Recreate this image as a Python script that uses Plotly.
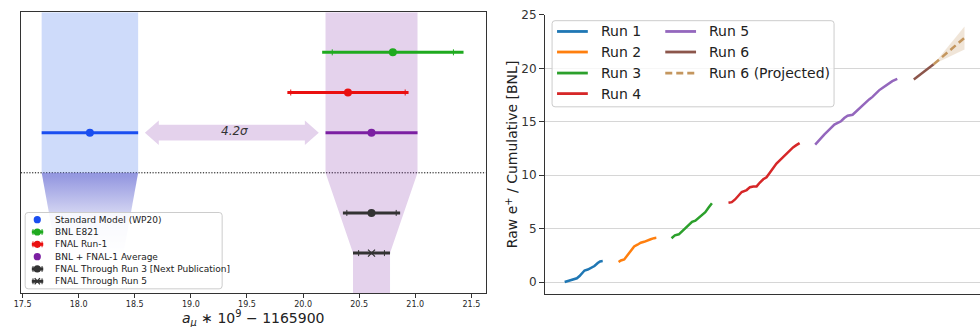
import plotly.graph_objects as go

W, H = 980, 327
FONT = "DejaVu Sans"

# ---------------- left panel: a_mu * 1e9 - 1165900 ----------------
meas_labels = ["Standard Model (WP20)", "BNL E821", "FNAL Run-1",
               "BNL + FNAL-1 Average", "FNAL Through Run 3 [Next Publication]",
               "FNAL Through Run 5"]
meas_center = [18.10, 20.80, 20.40, 20.61, 20.61, 20.61]
meas_total_err = [0.43, 0.63, 0.54, 0.41, 0.255, 0.165]
meas_stat_err = [0.0, 0.54, 0.51, 0.0, 0.22, 0.115]
meas_row = [3, 5, 4, 3, 1, 0]
meas_color = ["#1a4ef0", "#1faa1f", "#ea1010", "#7b1fa2", "#333333", "#333333"]
meas_symbol = ["circle", "circle", "circle", "circle", "circle", "x-thin"]
significance = "4.2σ"
divider_row = 2
left_ticks = [17.5, 18.0, 18.5, 19.0, 19.5, 20.0, 20.5, 21.0, 21.5]

# ---------------- right panel: cumulative raw positrons per run ----------------
run_names = ["Run 1", "Run 2", "Run 3", "Run 4", "Run 5", "Run 6"]
run_colors = ["#1f77b4", "#ff7f0e", "#2ca02c", "#d62728", "#9467bd", "#8c564b"]
run1_x = [4.92, 5.75, 6.58, 7.42, 8.0, 8.67, 9.33, 9.92, 10.75, 11.58, 12.42, 13.25, 13.83, 14.5]
run1_y = [0.03, 0.12, 0.18, 0.24, 0.37, 0.58, 0.91, 1.10, 1.19, 1.34, 1.52, 1.80, 1.95, 1.98]
run2_x = [18.5, 19.08, 19.92, 20.75, 21.58, 22.42, 23.25, 24.08, 24.92, 25.75, 26.58, 27.42, 28.0]
run2_y = [1.89, 2.04, 2.13, 2.56, 2.96, 3.35, 3.51, 3.69, 3.78, 3.93, 4.02, 4.12, 4.15]
run3_x = [31.83, 32.67, 33.67, 34.5, 35.33, 36.17, 37.0, 37.83, 38.67, 39.5, 40.33, 41.17, 42.0]
run3_y = [4.12, 4.39, 4.48, 4.79, 5.09, 5.40, 5.64, 5.76, 6.01, 6.25, 6.55, 6.98, 7.38]
run4_x = [46.17, 47.0, 47.83, 48.67, 49.5, 50.75, 51.58, 52.42, 53.25, 54.08, 54.92,
          55.75, 56.58, 57.42, 58.25, 59.08, 59.92, 60.75, 61.58, 62.42, 63.25, 64.08]
run4_y = [7.43, 7.49, 7.74, 8.10, 8.44, 8.62, 8.89, 8.96, 8.96, 9.32, 9.63,
          9.81, 10.23, 10.63, 11.09, 11.39, 11.70, 11.91, 12.31, 12.61, 12.82, 13.01]
run5_x = [68.0, 68.67, 69.5, 70.33, 71.17, 72.0, 72.83, 73.67, 74.5, 75.33, 76.17, 77.42,
          78.25, 79.08, 79.92, 80.75, 81.58, 82.42, 83.25, 84.08, 84.92, 85.75, 86.58, 87.42, 88.67]
run5_y = [12.86, 13.16, 13.53, 13.83, 14.13, 14.44, 14.74, 14.90, 15.05, 15.35, 15.57, 15.66,
          15.96, 16.27, 16.57, 16.82, 17.09, 17.33, 17.64, 17.94, 18.16, 18.40, 18.64, 18.80, 19.01]
run6_x = [92.83, 94.08, 95.33, 96.58, 97.83]
run6_y = [18.95, 19.31, 19.68, 19.99, 20.38]
proj_label = "Run 6 (Projected)"
proj_x = [97.83, 105.6]
proj_y = [20.38, 22.85]
proj_lo = [20.38, 21.75]
proj_hi = [20.38, 23.9]
right_ticks = [0, 5, 10, 15, 20, 25]

run_xs = [run1_x, run2_x, run3_x, run4_x, run5_x, run6_x]
run_ys = [run1_y, run2_y, run3_y, run4_y, run5_y, run6_y]

PROJ_COLOR = "#c4965e"
PROJ_FILL = "rgba(205,170,125,0.3)"
Y_LO, Y_HI = -1, 6


def px(x):
    return x / W


def py(y):
    return 1 - y / H


def rrect(x0, y0, x1, y1, r=3):
    p = lambda x, y: f"{px(x):.5f},{py(y):.5f}"
    return (f"M{p(x0 + r, y0)} L{p(x1 - r, y0)} Q{p(x1, y0)} {p(x1, y0 + r)} "
            f"L{p(x1, y1 - r)} Q{p(x1, y1)} {p(x1 - r, y1)} L{p(x0 + r, y1)} "
            f"Q{p(x0, y1)} {p(x0, y1 - r)} L{p(x0, y0 + r)} Q{p(x0, y0)} {p(x0 + r, y0)} Z")


fig = go.Figure()

# --- shaded bands ---
sm_c, sm_e = meas_center[0], meas_total_err[0]
av_c, av_e = meas_center[3], meas_total_err[3]
r5_c, r5_e = meas_center[5], meas_total_err[5]
r5_row = meas_row[5]

fig.add_trace(go.Scatter(
    x=[sm_c - sm_e, sm_c + sm_e, sm_c + sm_e, sm_c - sm_e],
    y=[divider_row, divider_row, Y_HI, Y_HI],
    fill="toself", fillcolor="rgba(30,90,230,0.22)", mode="lines",
    line=dict(width=0), hoverinfo="skip", xaxis="x", yaxis="y"))

fade_half = 0.30
fig.add_trace(go.Scatter(
    x=[sm_c - sm_e, sm_c + sm_e, sm_c + fade_half, sm_c - fade_half],
    y=[divider_row, divider_row, r5_row, r5_row],
    fill="toself", mode="lines", line=dict(width=0), hoverinfo="skip",
    fillgradient=dict(type="vertical", start=r5_row, stop=divider_row,
                      colorscale=[[0, "rgba(100,105,210,0)"],
                                  [0.45, "rgba(100,105,210,0.2)"],
                                  [1, "rgba(100,105,210,0.68)"]]),
    xaxis="x", yaxis="y"))

fig.add_trace(go.Scatter(
    x=[av_c - av_e, av_c - av_e, r5_c - r5_e, r5_c - r5_e,
       r5_c + r5_e, r5_c + r5_e, av_c + av_e, av_c + av_e],
    y=[Y_HI, divider_row, r5_row, Y_LO, Y_LO, r5_row, divider_row, Y_HI],
    fill="toself", fillcolor="rgba(120,30,160,0.2)", mode="lines",
    line=dict(width=0), hoverinfo="skip", xaxis="x", yaxis="y"))

# --- measurements with error bars ---
for lab, c, et, es, r, col, sym in zip(meas_labels, meas_center, meas_total_err,
                                        meas_stat_err, meas_row, meas_color, meas_symbol):
    if es > 0:
        fig.add_trace(go.Scatter(
            x=[c], y=[r], mode="markers", marker=dict(size=2, opacity=0),
            error_x=dict(type="data", array=[es], color=col, thickness=1, width=3),
            hoverinfo="skip", xaxis="x", yaxis="y"))
    if sym == "circle":
        mk = dict(symbol="circle", size=8, color=col)
    else:
        mk = dict(symbol=sym, size=7, color=col, line=dict(width=1.2, color=col))
    fig.add_trace(go.Scatter(
        x=[c], y=[r], mode="markers", name=lab, marker=mk,
        error_x=dict(type="data", array=[et], color=col, thickness=3, width=0),
        xaxis="x", yaxis="y"))

# --- cumulative runs ---
for name, col, xs, ys in zip(run_names, run_colors, run_xs, run_ys):
    fig.add_trace(go.Scatter(x=xs, y=ys, mode="lines", name=name,
                             line=dict(color=col, width=2.5), xaxis="x2", yaxis="y2"))

fig.add_trace(go.Scatter(
    x=proj_x + proj_x[::-1], y=proj_hi + proj_lo[::-1], fill="toself",
    fillcolor=PROJ_FILL, mode="lines", line=dict(width=0), hoverinfo="skip",
    xaxis="x2", yaxis="y2"))
fig.add_trace(go.Scatter(x=proj_x, y=proj_y, mode="lines", name=proj_label,
                         line=dict(color=PROJ_COLOR, width=2.5, dash="7px,4px"),
                         xaxis="x2", yaxis="y2"))

# --- shapes: divider, significance arrow, legend frames and keys ---
shapes = [dict(type="line", xref="x domain", yref="y", x0=0, x1=1,
               y0=divider_row, y1=divider_row, layer="below",
               line=dict(color="black", width=1, dash="1.2px,1.6px"))]

gap = 0.06
a_l = sm_c + sm_e + gap
a_r = av_c - av_e - gap
a_y = meas_row[0]
head_len, head_h, body_h = 0.124, 0.305, 0.195
arrow = (f"M{a_l},{a_y} L{a_l + head_len},{a_y + head_h} L{a_l + head_len},{a_y + body_h} "
         f"L{a_r - head_len},{a_y + body_h} L{a_r - head_len},{a_y + head_h} L{a_r},{a_y} "
         f"L{a_r - head_len},{a_y - head_h} L{a_r - head_len},{a_y - body_h} "
         f"L{a_l + head_len},{a_y - body_h} L{a_l + head_len},{a_y - head_h} Z")
shapes.append(dict(type="path", xref="x", yref="y", path=arrow,
                   fillcolor="rgba(120,30,160,0.2)", line=dict(width=0)))

# legend frames
shapes.append(dict(type="path", xref="paper", yref="paper", path=rrect(18.3, 210, 216.7, 288),
                   fillcolor="rgba(255,255,255,0.8)", line=dict(color="#cccccc", width=1)))
shapes.append(dict(type="path", xref="paper", yref="paper", path=rrect(549, 14, 833, 102),
                   fillcolor="rgba(255,255,255,0.8)", line=dict(color="#cccccc", width=1)))

annotations = []

# left legend keys
row0, row_step, key_x, text_x = 217.3, 12.6, 30.5, 46.7
for i, (lab, col, es, sym) in enumerate(zip(meas_labels, meas_color, meas_stat_err, meas_symbol)):
    yy = row0 + i * row_step
    if es > 0:
        shapes.append(dict(type="line", xref="paper", yref="paper",
                           x0=px(25), x1=px(36.5), y0=py(yy), y1=py(yy),
                           line=dict(color=col, width=3)))
        for cx in (26.2, 35.3):
            shapes.append(dict(type="line", xref="paper", yref="paper",
                               x0=px(cx), x1=px(cx), y0=py(yy - 3), y1=py(yy + 3),
                               line=dict(color=col, width=1)))
    if sym == "circle":
        shapes.append(dict(type="circle", xref="paper", yref="paper",
                           xsizemode="pixel", ysizemode="pixel",
                           xanchor=px(key_x), yanchor=py(yy),
                           x0=-3.6, x1=3.6, y0=-3.6, y1=3.6,
                           fillcolor=col, line=dict(width=0)))
    else:
        for d in (-1, 1):
            shapes.append(dict(type="line", xref="paper", yref="paper",
                               x0=px(key_x - 2.6), x1=px(key_x + 2.6),
                               y0=py(yy - 3.2 * d), y1=py(yy + 3.2 * d),
                               line=dict(color=col, width=1.3)))
    annotations.append(dict(x=px(text_x), y=py(yy), xref="paper", yref="paper",
                            text=lab, showarrow=False, xanchor="left", yanchor="middle",
                            font=dict(family=FONT, size=9, color="#222222")))

# right legend keys (two columns: runs 1-4, then the rest)
r_entries = list(zip(run_names, run_colors, ["solid"] * 6)) + [(proj_label, PROJ_COLOR, "7px,4px")]
r_rows = [25, 46, 67.5, 88.5]
for i, (lab, col, dash) in enumerate(r_entries):
    colm, rw = (0, i) if i < 4 else (1, i - 4)
    x0 = 554 if colm == 0 else 663
    yy = r_rows[rw]
    shapes.append(dict(type="line", xref="paper", yref="paper",
                       x0=px(x0), x1=px(x0 + 31), y0=py(yy), y1=py(yy),
                       line=dict(color=col, width=2.8, dash=dash)))
    annotations.append(dict(x=px(x0 + 42), y=py(yy), xref="paper", yref="paper",
                            text=lab, showarrow=False, xanchor="left", yanchor="middle",
                            font=dict(family=FONT, size=14, color="#222222")))

# arrow label and axis titles
annotations.append(dict(x=(a_l + a_r) / 2 + 0.02, y=a_y + 0.03, xref="x", yref="y",
                        text=f"<i>{significance}</i>", showarrow=False,
                        font=dict(family=FONT, size=12, color="#333333")))
annotations.append(dict(x=px(248), y=py(318), xref="paper", yref="paper",
                        text="<i>a</i><sub><i>μ</i></sub> ∗ 10<sup>9</sup> − 1165900",
                        showarrow=False, xanchor="center", yanchor="middle",
                        font=dict(family=FONT, size=14, color="#222222")))
annotations.append(dict(x=px(508), y=py(150), xref="paper", yref="paper",
                        text="Raw e<sup>+</sup> / Cumulative [BNL]", textangle=-90,
                        showarrow=False, xanchor="center", yanchor="middle",
                        font=dict(family=FONT, size=14, color="#222222")))

fig.update_layout(
    width=W, height=H, margin=dict(l=0, r=0, t=0, b=0),
    paper_bgcolor="white", plot_bgcolor="white", showlegend=False,
    font=dict(family=FONT, color="#222222"),
    shapes=shapes, annotations=annotations,
    xaxis=dict(domain=[px(14), px(482.3)], range=[17.485, 21.629], anchor="y",
               tickvals=left_ticks, ticktext=[f"{t:.1f}" for t in left_ticks],
               ticks="outside", ticklen=3.5, tickwidth=0.8, tickcolor="#333333",
               tickfont=dict(family=FONT, size=8, color="#262626"),
               showline=True, mirror=True, linecolor="#333333", linewidth=1,
               showgrid=False, zeroline=False),
    yaxis=dict(domain=[py(292.5), py(5.3)], range=[Y_LO, Y_HI], anchor="x",
               showticklabels=False, ticks="", showgrid=False, zeroline=False,
               showline=True, mirror=True, linecolor="#333333", linewidth=1),
    xaxis2=dict(domain=[px(542), 1.0], range=[0, 109.5], anchor="y2",
                showticklabels=False, ticks="", showgrid=False, zeroline=False,
                showline=True, linecolor="#333333", linewidth=1.2),
    yaxis2=dict(domain=[py(293.3), py(8)], range=[-1.1, 25], anchor="x2",
                tickvals=right_ticks, ticks="outside", ticklen=5, tickwidth=1,
                tickcolor="#333333", tickfont=dict(family=FONT, size=12, color="#333333"),
                showgrid=True, gridcolor="#d6d6d6", gridwidth=1, zeroline=False,
                showline=True, linecolor="#333333", linewidth=1.2),
)

fig.write_html("out.html")
